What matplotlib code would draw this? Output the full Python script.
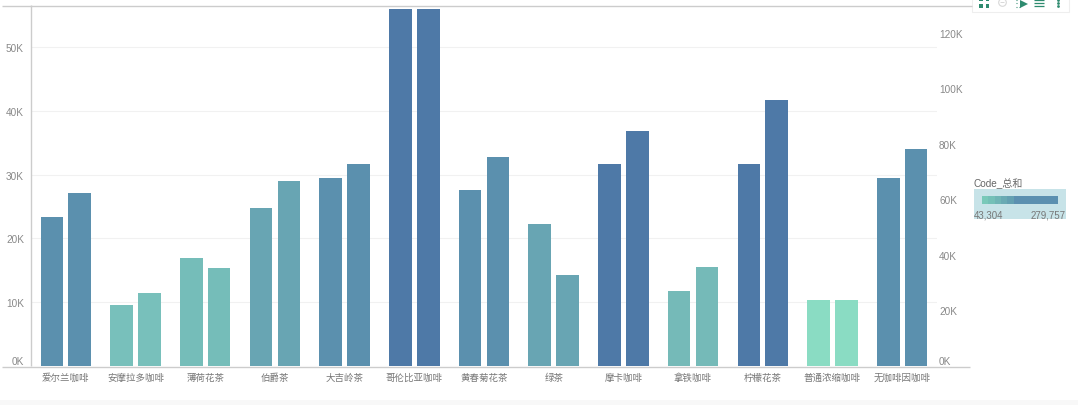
import matplotlib
matplotlib.use("Agg")
import matplotlib.pyplot as plt
from matplotlib.lines import Line2D
from matplotlib.patches import Rectangle

plt.rcParams['font.family'] = ['Liberation Sans', 'Noto Sans CJK SC', 'DejaVu Sans']

categories = ['爱尔兰咖啡', '安摩拉多咖啡', '薄荷花茶', '伯爵茶', '大吉岭茶', '哥伦比亚咖啡', '黄春菊花茶',
              '绿茶', '摩卡咖啡', '拿铁咖啡', '柠檬花茶', '普通浓缩咖啡', '无咖啡因咖啡']
left_values = [23400, 9500, 17000, 24700, 29400, 56000, 27600, 22300, 31700, 11800, 31700, 10400, 29500]
right_values = [62300, 26100, 35400, 66700, 72800, 128400, 75300, 32900, 84700, 35800, 95800, 23900, 78200]
bar_colors = ['#5b90ae', '#78c0bb', '#75bdb9', '#68a5b3', '#5b90ae', '#4e79a7', '#5b90ae',
              '#68a5b3', '#4e79a7', '#75bab8', '#4e79a7', '#8adcc3', '#5b90ae']
left_ticks = [0, 10000, 20000, 30000, 40000, 50000]
right_ticks = [0, 20000, 40000, 60000, 80000, 100000, 120000]
legend_title = 'Code_总和'
legend_min = '43,304'
legend_max = '279,757'
legend_steps = ['#79c9b9', '#74c0b7', '#6fb5b5', '#69aab3', '#63a0b1', '#5b90b0', '#5b90b0', '#5b90b0',
                '#5b90b0', '#5b90b0', '#5b90b0', '#5b90b0']

W, H = 1078, 406
fig = plt.figure(figsize=(W / 100, H / 100), dpi=100, facecolor='white')


def fx(p):
    return p / W


def fy(p):
    return 1 - p / H


def hline(x0, x1, y, color, lw=1.0):
    fig.add_artist(Line2D([fx(x0), fx(x1)], [fy(y), fy(y)], color=color, lw=lw, solid_capstyle='butt'))


def vline(x, y0, y1, color, lw=1.0):
    fig.add_artist(Line2D([fx(x), fx(x)], [fy(y0), fy(y1)], color=color, lw=lw, solid_capstyle='butt'))


def icon(x, y, marker, color, size, **kw):
    fig.add_artist(Line2D([fx(x)], [fy(y)], marker=marker, color=color, ms=size, lw=0, mew=kw.get('mew', 0),
                          mfc=kw.get('mfc', color), mec=kw.get('mec', color)))


ax_l, ax_r, ax_t, ax_b = 31, 937, 6, 367
ax = fig.add_axes([fx(ax_l), fy(ax_b), fx(ax_r - ax_l), (ax_b - ax_t) / H])
ax2 = ax.twinx()
x = list(range(len(categories)))
bw = 0.325
off = 0.2
ax.bar([i - off for i in x], left_values, width=bw, color=bar_colors, linewidth=0)
ax2.bar([i + off for i in x], right_values, width=bw, color=bar_colors, linewidth=0)
ax.set_xlim(-0.5, 12.5)
ax.set_ylim(0, 56600)
ax2.set_ylim(0, 129900)
ax.set_axisbelow(True)
ax.grid(axis='y', color='#f1f1f1', lw=0.8)
for a in (ax, ax2):
    for s in a.spines.values():
        s.set_visible(False)

ax.set_xticks(x)
ax.set_xticklabels(categories, fontsize=6.8, color='#777777', va='baseline')
ax.tick_params(axis='x', length=0, pad=10)

ax.set_yticks(left_ticks)
ax.set_yticklabels([f'{int(v / 1000)}K' for v in left_ticks], fontsize=7.2, color='#888888')
ax.tick_params(axis='y', length=0, pad=5)
ax2.set_yticks(right_ticks)
ax2.set_yticklabels([f'{int(v / 1000)}K' for v in right_ticks], fontsize=7.2, color='#888888')
ax2.tick_params(axis='y', length=0, pad=1.5)
for lab in [ax.get_yticklabels()[0], ax2.get_yticklabels()[0]]:
    lab.set_va('bottom')

hline(2, 972, 6.5, '#cccccc')
hline(2, 970, 367.5, '#cccccc')
vline(30.5, 6, 367, '#cccccc')

# bottom page strip
fig.add_artist(Rectangle((0, 0), 1, 5 / H, transform=fig.transFigure, color='#f8f8f8', lw=0))

# legend
fig.text(fx(974), fy(184), legend_title, fontsize=7.2, color='#666666', va='center', ha='left')
fig.add_artist(Rectangle((fx(974), fy(220)), 92 / W, 30 / H, transform=fig.transFigure, color='#c7e3e8', lw=0))
n = len(legend_steps)
for i, c in enumerate(legend_steps):
    fig.add_artist(Rectangle((fx(982 + i * 76 / n), fy(205)), 76 / n / W, 8 / H,
                             transform=fig.transFigure, color=c, lw=0))
fig.text(fx(974), fy(216), legend_min, fontsize=7, color='#777777', va='center', ha='left')
fig.text(fx(1066), fy(216), legend_max, fontsize=7, color='#777777', va='center', ha='right')

# toolbar
fig.add_artist(Rectangle((fx(972), fy(13)), 97 / W, 14 / H, transform=fig.transFigure,
                         facecolor='white', edgecolor='#eeeeee', lw=0.8))
green = '#2e8b6f'
for (xc, yc) in [(980.5, 0.5), (987, 0.5), (980.5, 7), (987, 7)]:
    fig.add_artist(Rectangle((fx(xc - 1.5), fy(yc + 1.5)), 3.5 / W, 3.5 / H, transform=fig.transFigure,
                             color=green, lw=0))
icon(1002, 3, 'o', '#d8d8d8', 5.5, mfc='none', mec='#d8d8d8', mew=0.8)
hline(1000, 1004, 3, '#d8d8d8', 0.7)
for yy in (1, 4, 8):
    hline(1016, 1017, yy, green, 0.8)
hline(1019, 1020, 8, green, 0.8)
icon(1024, 4.5, '>', green, 6)
for yy in (1, 4, 7):
    hline(1034, 1044, yy, green, 0.9)
for yy in (1, 4, 7):
    icon(1057.5, yy, 'o', green, 2)

fig.savefig('out.png', dpi=100)
